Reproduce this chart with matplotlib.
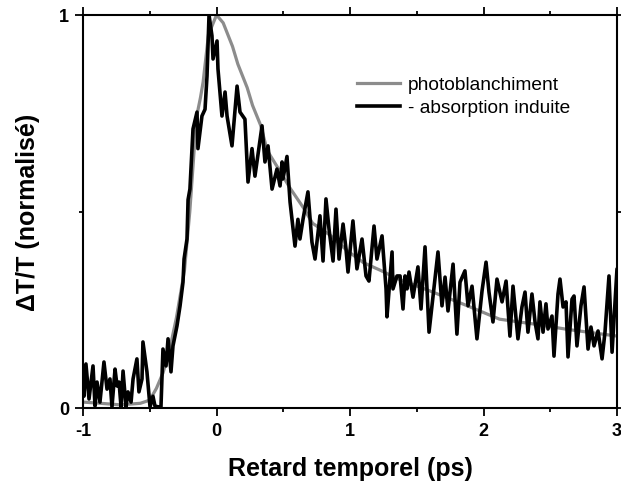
import numpy as np
import matplotlib
matplotlib.use('Agg')
import matplotlib.pyplot as plt
from matplotlib.ticker import MultipleLocator

plt.rcParams['font.family'] = ['Liberation Sans', 'DejaVu Sans']
plt.rcParams['axes.unicode_minus'] = False

# photoblanchiment (gray, smooth)
gray_x = [-1.0, -0.87, -0.72, -0.57, -0.50, -0.45, -0.40, -0.35, -0.30, -0.24,
          -0.20, -0.15, -0.12, -0.10, -0.06, 0.0, 0.05, 0.12, 0.16, 0.23,
          0.27, 0.33, 0.38, 0.48, 0.55, 0.65, 0.72, 0.85, 0.98, 1.10,
          1.23, 1.35, 1.62, 1.88, 2.12, 2.37, 2.63, 3.0]
gray_y = [0.015, 0.012, 0.008, 0.012, 0.02, 0.05, 0.09, 0.15, 0.23, 0.35,
          0.50, 0.74, 0.79, 0.83, 0.95, 1.0, 0.98, 0.92, 0.875, 0.815,
          0.77, 0.72, 0.655, 0.60, 0.56, 0.51, 0.47, 0.44, 0.40, 0.37,
          0.35, 0.33, 0.295, 0.26, 0.226, 0.214, 0.20, 0.183]

# - absorption induite (black, noisy)
black_x = [-1.000, -0.993, -0.978, -0.955, -0.925, -0.910, -0.895, -0.873, -0.843, -0.820,
           -0.798, -0.783, -0.760, -0.745, -0.730, -0.715, -0.700, -0.678, -0.663, -0.640,
           -0.625, -0.596, -0.581, -0.558, -0.551, -0.521, -0.498, -0.476, -0.461, -0.438,
           -0.416, -0.401, -0.378, -0.363, -0.341, -0.326, -0.296, -0.273, -0.251, -0.243,
           -0.221, -0.213, -0.199, -0.176, -0.146, -0.139, -0.109, -0.086, -0.071, -0.056,
           -0.034, -0.026, 0.004, 0.011, 0.041, 0.064, 0.079, 0.116, 0.154, 0.176,
           0.213, 0.236, 0.266, 0.288, 0.341, 0.363, 0.386, 0.416, 0.453, 0.476,
           0.491, 0.498, 0.528, 0.551, 0.588, 0.610, 0.625, 0.648, 0.685, 0.715,
           0.738, 0.775, 0.798, 0.820, 0.843, 0.873, 0.895, 0.918, 0.948, 0.970,
           0.985, 1.022, 1.052, 1.090, 1.120, 1.142, 1.180, 1.202, 1.240, 1.270,
           1.277, 1.315, 1.322, 1.352,
           1.375, 1.397, 1.412, 1.427, 1.442, 1.472, 1.494, 1.509, 1.532, 1.562,
           1.592, 1.622, 1.659, 1.689, 1.712, 1.734, 1.772, 1.801, 1.824, 1.861,
           1.884, 1.914, 1.951, 1.989, 2.019, 2.041, 2.071, 2.101, 2.139, 2.169,
           2.198, 2.221, 2.258, 2.288, 2.311, 2.333, 2.363, 2.386, 2.408, 2.423,
           2.446, 2.468, 2.483, 2.513, 2.528, 2.558, 2.573, 2.596, 2.618, 2.633,
           2.663, 2.678, 2.700, 2.730, 2.753, 2.783, 2.805, 2.828, 2.858, 2.888,
           2.910, 2.940, 2.963, 3.000, 3.010]
black_y = [0.107, 0.030, 0.112, 0.023, 0.107, 0.005, 0.066, 0.015, 0.117, 0.048,
           0.074, 0.003, 0.099, 0.056, 0.066, 0.003, 0.094, 0.003, 0.041, 0.015,
           0.074, 0.125, 0.041, 0.074, 0.168, 0.092, 0.003, 0.030, 0.005, 0.003,
           0.003, 0.150, 0.107, 0.176, 0.092, 0.158, 0.209, 0.260, 0.320, 0.379,
           0.430, 0.530, 0.557, 0.710, 0.753, 0.660, 0.743, 0.760, 0.845, 1.000,
           0.947, 0.888, 0.934, 0.863, 0.743, 0.804, 0.743, 0.667, 0.819, 0.753,
           0.735, 0.575, 0.660, 0.590, 0.718, 0.626, 0.667, 0.557, 0.608, 0.565,
           0.626, 0.583, 0.640, 0.524, 0.412, 0.480, 0.430, 0.480, 0.550, 0.422,
           0.379, 0.489, 0.374, 0.532, 0.455, 0.374, 0.506, 0.379, 0.468, 0.405,
           0.346, 0.476, 0.354, 0.430, 0.336, 0.323, 0.463, 0.379, 0.438, 0.303,
           0.232, 0.397, 0.303, 0.336,
           0.336, 0.252, 0.336, 0.303, 0.346, 0.282, 0.328, 0.359, 0.252, 0.410,
           0.193, 0.285, 0.397, 0.260, 0.333, 0.247, 0.366, 0.188, 0.320, 0.349,
           0.260, 0.310, 0.176, 0.298, 0.371, 0.295, 0.219, 0.328, 0.270, 0.323,
           0.183, 0.310, 0.176, 0.257, 0.295, 0.193, 0.290, 0.219, 0.176, 0.270,
           0.193, 0.265, 0.201, 0.234, 0.132, 0.290, 0.328, 0.257, 0.270, 0.130,
           0.277, 0.285, 0.158, 0.260, 0.308, 0.150, 0.206, 0.158, 0.196, 0.125,
           0.193, 0.336, 0.142, 0.354, 0.250]

xticks = [-1, 0, 1, 2, 3]
yticks = [0, 1]

fig = plt.figure(figsize=(6.21, 4.89), dpi=100)
ax = fig.add_axes([83/621, 1 - 409/489, 534/621, 393/489])

ax.plot(gray_x, gray_y, color='#8c8c8c', lw=2.3, label='photoblanchiment')
ax.plot(black_x, black_y, color='black', lw=2.6, label='- absorption induite')

ax.set_xlim(-1, 3)
ax.set_ylim(0, 1)
ax.set_xticks(xticks)
ax.set_yticks(yticks)
ax.xaxis.set_minor_locator(MultipleLocator(0.5))
ax.yaxis.set_minor_locator(MultipleLocator(0.5))
ax.tick_params(which='both', direction='out', top=True, right=True, width=1.3,
               labelsize=13, pad=4)
ax.tick_params(which='major', length=6)
ax.tick_params(which='minor', length=3)
for lab in ax.get_xticklabels() + ax.get_yticklabels():
    lab.set_fontweight('bold')
for sp in ax.spines.values():
    sp.set_linewidth(1.5)

ax.set_xlabel('Retard temporel (ps)', fontsize=18, fontweight='bold', labelpad=12)
ax.set_ylabel('\u0394T/T (normalisé)', fontsize=18, fontweight='bold', labelpad=14)

ax.legend(loc='upper left', bbox_to_anchor=(0.513, 0.845), frameon=False,
          fontsize=13.8, handlelength=2.25, handletextpad=0.4, labelspacing=0.3,
          borderpad=0, borderaxespad=0)

fig.savefig('out.png', dpi=100)
